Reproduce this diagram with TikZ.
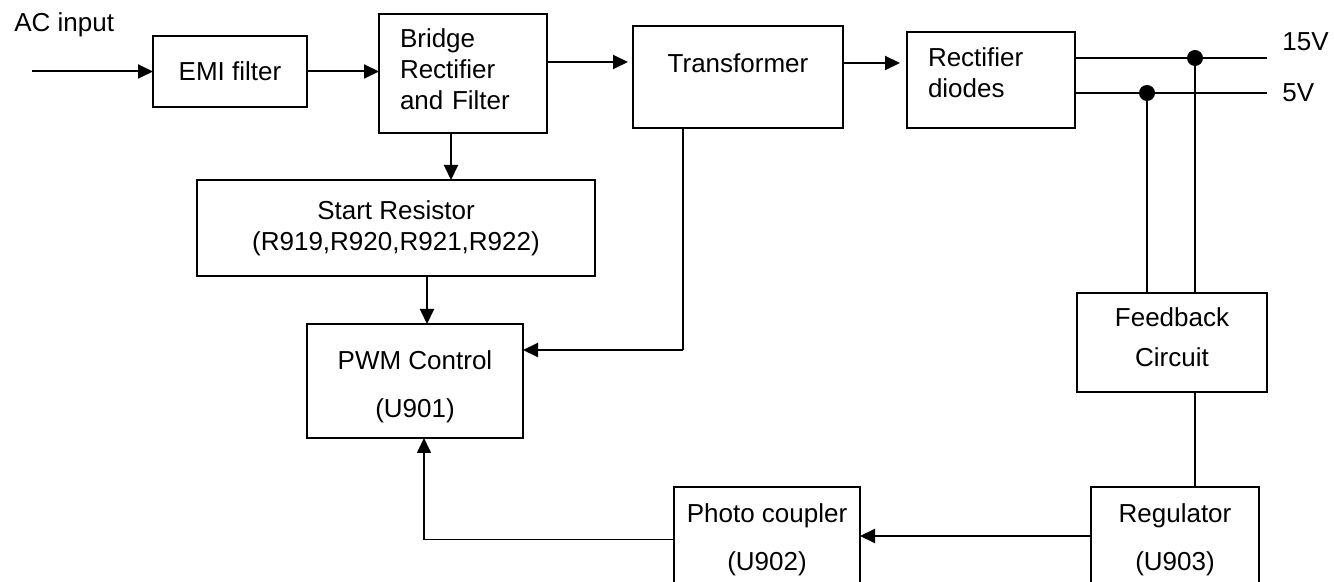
\documentclass[tikz,border=0pt]{standalone}
\usepackage{fontspec}
\setmainfont{Liberation Sans}
\usetikzlibrary{arrows.meta,positioning}
\tikzset{
  blk/.style={draw=black,line width=1pt,fill=white,align=center,inner sep=0pt,outer sep=0pt,font=\fontsize{13pt}{15.5pt}\selectfont},
  wideblk/.style={blk,font=\fontsize{13pt}{24pt}\selectfont},
  leftblk/.style={blk,align=left,inner xsep=10.5pt,text width=63pt},
  flow/.style={-{Triangle[length=7.5pt,width=7pt]},line width=1pt,draw=black},
  wire/.style={line width=1pt,draw=black},
  thinwire/.style={line width=0.7pt,draw=black},
  lbl/.style={inner sep=0pt,font=\fontsize{13pt}{15.5pt}\selectfont},
  joint/.style={fill=black}
}

\begin{document}
\begin{tikzpicture}[x=0.5pt,y=-0.5pt]
  \useasboundingbox (0,0) rectangle (1334,582);
  \clip (0,0) rectangle (1334,582);
  % main power path
  \node[blk,minimum width=77pt,minimum height=35.5pt] (emi) at (230,71.5) {EMI filter};
  \node[leftblk,minimum height=59.5pt,text depth=35pt,right=36pt of emi,yshift=-1pt] (bridge) {Bridge\\Rectifier\\and Filter};
  \node[blk,minimum width=105pt,minimum height=51pt,text depth=13.5pt,right=43pt of bridge,yshift=-1.75pt] (trafo) {Transformer};
  \node[leftblk,minimum height=48pt,text depth=22.5pt,right=32pt of trafo,yshift=-1.5pt] (rect) {Rectifier\\diodes};
  % control side
  \node[blk,minimum width=199pt,minimum height=48pt,below=23.5pt of bridge,xshift=-33.5pt] (start) {Start Resistor\\(R919,R920,R921,R922)};
  \node[wideblk,minimum width=108pt,minimum height=57pt,text height=39pt,below=24pt of start,xshift=9.5pt] (pwm) {PWM Control\\(U901)};
  \node[blk,font=\fontsize{13pt}{20pt}\selectfont,minimum width=95pt,minimum height=49.5pt,text depth=5pt,below=82.5pt of rect,xshift=90.5pt] (fb) {Feedback\\Circuit};
  \node[wideblk,minimum width=84pt,minimum height=52.5pt,below=47.5pt of fb,xshift=1.5pt] (reg) {Regulator\\(U903)};
  \node[wideblk,minimum width=93pt,minimum height=52.5pt,left=115.5pt of reg] (photo) {Photo coupler\\(U902)};
  % labels
  \node[lbl,anchor=base west] (aclbl) at (14,32) {AC input};
  \node[lbl,anchor=base west] (v15) at (1282,51) {15V};
  \node[lbl,anchor=base west] (v5) at (1282,102) {5V};
  % connectors
  \coordinate (acin) at (32,71.5);
  \draw[flow] (acin) -- (emi.west);
  \draw[flow] (emi.east) -- (emi.east -| bridge.west);
  \coordinate (brout) at ([yshift=5.75pt]bridge.east);
  \draw[flow,shorten >=2.5pt] (brout) -- (brout -| trafo.west);
  \coordinate (trout) at ([yshift=7pt]trafo.east);
  \draw[flow,shorten >=3.5pt] (trout) -- (trout -| rect.west);
  \coordinate (brdown) at ([xshift=-6pt]bridge.south);
  \draw[flow] (brdown) -- (brdown |- start.north);
  \coordinate (pwmin) at ([xshift=6pt]pwm.north);
  \draw[flow] (pwmin |- start.south) -- (pwmin);
  \coordinate (trtap) at ([xshift=-27.5pt]trafo.south);
  \coordinate (pwmside) at ([yshift=15.5pt]pwm.east);
  \draw[thinwire] (trtap) -- (trtap |- pwmside);
  \draw[flow] (trtap |- pwmside) -- (pwmside);
  \coordinate (pwmfb) at ([xshift=4.5pt]pwm.south);
  \draw[flow,line width=0.8pt] (photo.west) -| (pwmfb);
  \coordinate (regout) at ([yshift=1.75pt]reg.west);
  \draw[flow] (regout) -- (regout -| photo.east);
  \coordinate (fbout) at ([xshift=11.5pt]fb.south);
  \draw[thinwire] (fbout) -- (fbout |- reg.north);
  % output rails and feedback taps
  \coordinate (rail15) at ([yshift=11pt]rect.east);
  \coordinate (rail5) at ([yshift=-6.5pt]rect.east);
  \draw[wire] (rail15) -- (rail15 -| fb.east);
  \draw[wire] (rail5) -- (rail5 -| fb.east);
  \coordinate (tap5) at ([xshift=-12.5pt]fb.north);
  \coordinate (tap15) at ([xshift=11.5pt]fb.north);
  \draw[wire] (tap5) -- (tap5 |- rail5);
  \draw[wire] (tap15) -- (tap15 |- rail15);
  \fill[joint] (tap5 |- rail5) circle (4pt);
  \fill[joint] (tap15 |- rail15) circle (4pt);
\end{tikzpicture}
\end{document}
